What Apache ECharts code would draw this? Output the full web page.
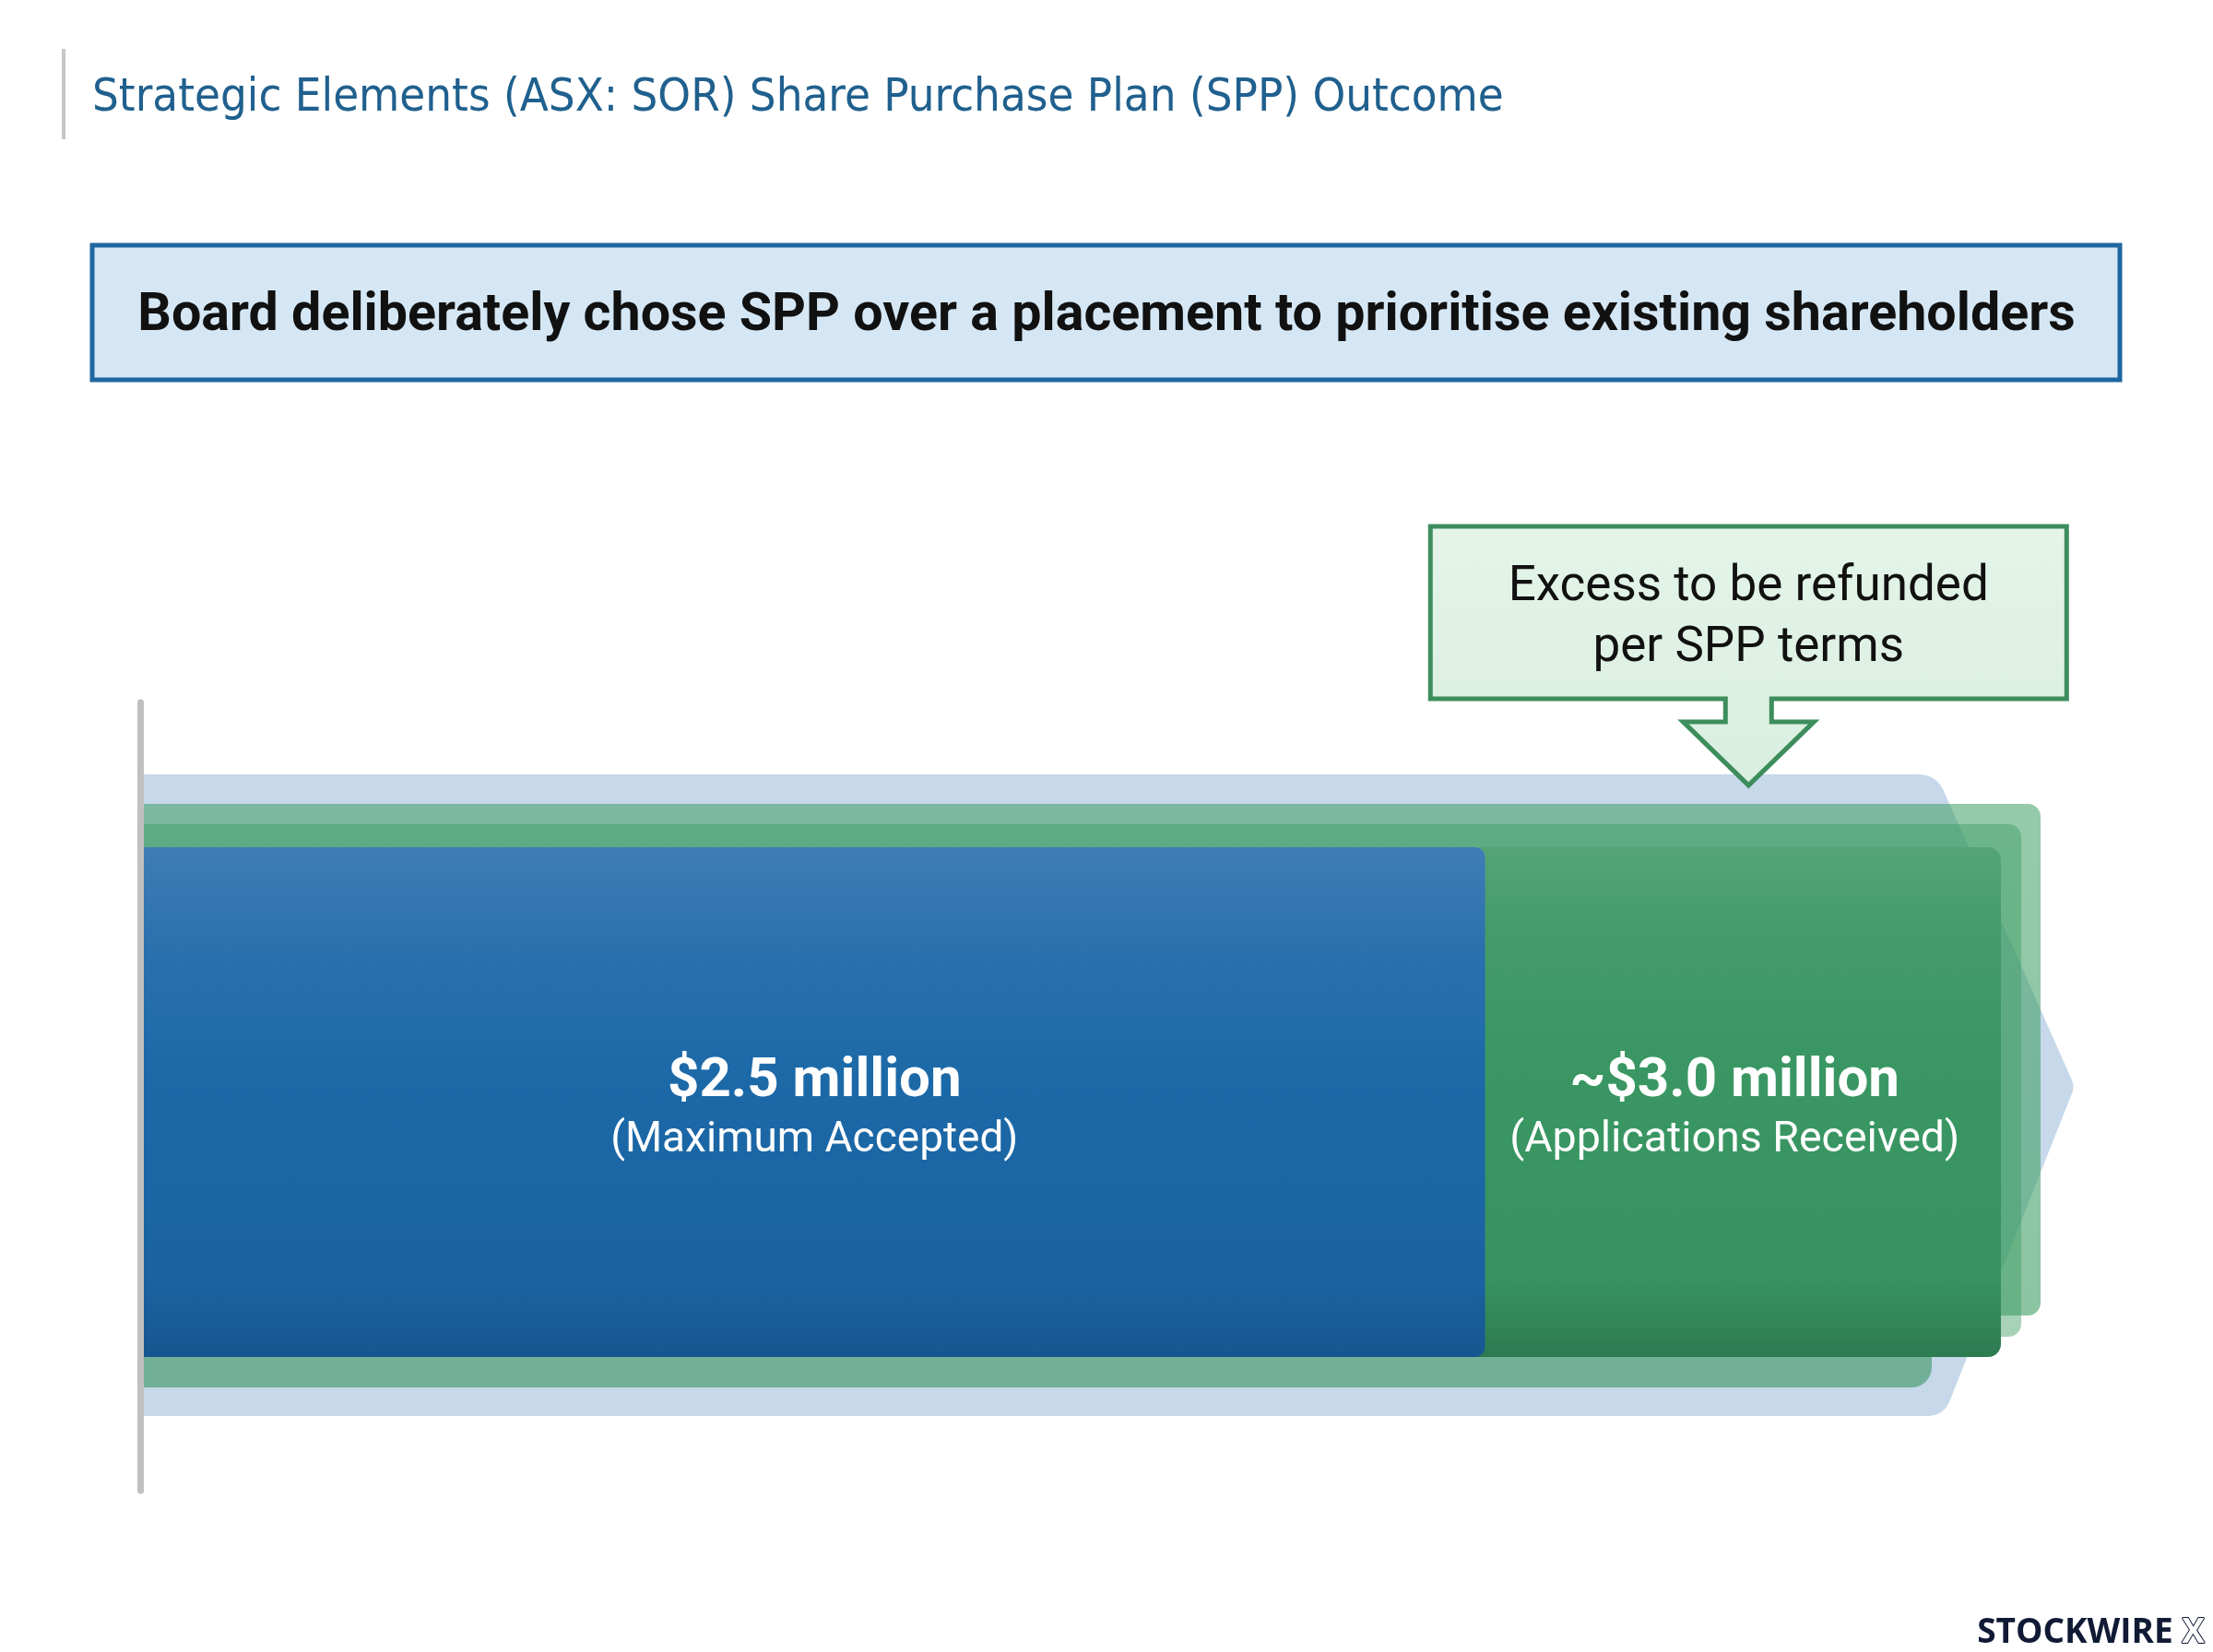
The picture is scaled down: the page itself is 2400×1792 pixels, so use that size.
<!DOCTYPE html>
<html><head><meta charset="utf-8">
<script src="https://cdn.jsdelivr.net/npm/echarts@6/dist/echarts.min.js"></script>
<style>html,body{margin:0;padding:0;background:#fff}#c{width:2400px;height:1792px}</style>
</head><body><div id="c"></div>
<script>
// ---- data ----
const categories = ['SPP'];
const acceptedValues = [2.5];       // $ million, maximum accepted
const applicationValues = [3.0];    // $ million, applications received (approx.)
const valueLabels = ['$2.5 million', '~$3.0 million'];
const subLabels = ['(Maximum Accepted)', '(Applications Received)'];
const calloutLines = ['Excess to be refunded', 'per SPP terms'];
const titleText = 'Strategic Elements (ASX: SOR) Share Purchase Plan (SPP) Outcome';
const headlineText = 'Board deliberately chose SPP over a placement to prioritise existing shareholders';
const axisMin = 1.2, axisMax = 3.0;

// ---- helpers ----
function towards(p, q, r) {
  const dx = q[0] - p[0], dy = q[1] - p[1];
  const L = Math.hypot(dx, dy) || 1;
  const t = Math.min(r, L / 2) / L;
  return [p[0] + dx * t, p[1] + dy * t];
}
function roundedPath(pts, rs) {
  const n = pts.length; let d = '';
  for (let i = 0; i < n; i++) {
    const p0 = pts[(i - 1 + n) % n], p1 = pts[i], p2 = pts[(i + 1) % n];
    const r = rs[i];
    const a = towards(p1, p0, r), b = towards(p1, p2, r);
    d += (i === 0 ? 'M' : 'L') + a[0] + ' ' + a[1] + ' Q' + p1[0] + ' ' + p1[1] + ' ' + b[0] + ' ' + b[1] + ' ';
  }
  return d + 'Z';
}
const LG = (stops) => new echarts.graphic.LinearGradient(0, 0, 0, 1, stops.map((c) => ({offset: c[0], color: c[1]})));

const chart = echarts.init(document.getElementById('c'), null, {renderer: 'canvas'});

function renderItem(params, api) {
  const cat = api.value(0), acc = api.value(1), app = api.value(2);
  const x0 = params.coordSys.x;
  const pAcc = api.coord([acc, cat]);
  const pApp = api.coord([app, cat]);
  const band = api.size([0, 1])[1];
  const h = band * 0.647;
  const cy = pAcc[1] + 6;
  const T = cy - h / 2, B = cy + h / 2;
  const R = pApp[0], Xa = pAcc[0];
  const children = [];

  // light-blue arrow backdrop
  const arrowPts = [[x0, T - 79], [R - 70, T - 79], [R + 80, cy - 17], [R - 62, B + 64], [x0, B + 64]];
  children.push({type: 'path', shape: {pathData: roundedPath(arrowPts, [0, 20, 8, 18, 0])},
    style: {fill: '#c6d8e9'}});
  // layered green sheets
  children.push({type: 'rect', shape: {x: x0, y: T + 10, width: R - 75 - x0, height: B + 33 - (T + 10), r: [0, 22, 22, 0]},
    style: {fill: 'rgba(58,150,102,0.6)'}});
  children.push({type: 'rect', shape: {x: x0, y: T - 47, width: R + 43 - x0, height: (B - 45) - (T - 47), r: [0, 14, 14, 0]},
    style: {fill: LG([[0, 'rgba(62,158,100,0.55)'], [1, 'rgba(62,158,100,0.6)']])}});
  children.push({type: 'rect', shape: {x: x0, y: T - 25, width: R + 22 - x0, height: (B - 22) - (T - 25), r: [0, 14, 14, 0]},
    style: {fill: 'rgba(60,156,98,0.45)'}});
  // applications received (green)
  children.push({type: 'rect', shape: {x: x0, y: T, width: R - x0, height: h, r: [0, 14, 14, 0]},
    style: {fill: LG([[0, '#55a577'], [0.15, '#459c6b'], [0.4, '#3a9763'], [0.85, '#379360'], [1, '#2d7a50']])}});
  // maximum accepted (blue)
  children.push({type: 'rect', shape: {x: x0, y: T, width: Xa - x0, height: h, r: [0, 11, 11, 0]},
    style: {fill: LG([[0, '#3f7db6'], [0.2, '#2a71ae'], [0.45, '#1c69a8'], [0.85, '#1a63a1'], [1, '#165690']])}});

  // labels
  const cBlue = (x0 + Xa) / 2, cGreen = (Xa + R) / 2;
  children.push({type: 'text', style: {x: cBlue, y: cy - 22, text: valueLabels[0], font: 'bold 60px Roboto', fill: '#fff', align: 'center', verticalAlign: 'middle'}});
  children.push({type: 'text', style: {x: cBlue, y: cy + 42, text: subLabels[0], font: 'normal 46px Roboto', fill: '#fff', align: 'center', verticalAlign: 'middle'}});
  children.push({type: 'text', style: {x: cGreen - 9, y: cy - 22, text: valueLabels[1], font: 'bold 60px Roboto', fill: '#fff', align: 'center', verticalAlign: 'middle'}});
  children.push({type: 'text', style: {x: cGreen - 9, y: cy + 42, text: subLabels[1], font: 'normal 46.5px Roboto', fill: '#fff', align: 'center', verticalAlign: 'middle'}});

  // callout pointing at the excess segment
  const tip = T - 67, bot = T - 161, top = T - 348, hw = 345, sw = 25, aw = 71;
  const cx = cGreen + 6;
  children.push({type: 'polygon', shape: {points: [
      [cx - hw, top], [cx + hw, top], [cx + hw, bot], [cx + sw, bot], [cx + sw, bot + 25], [cx + aw, bot + 25],
      [cx, tip], [cx - aw, bot + 25], [cx - sw, bot + 25], [cx - sw, bot], [cx - hw, bot]]},
    style: {fill: LG([[0, '#e4f4e9'], [1, '#d9efe0']]), stroke: '#3d8d5d', lineWidth: 5, lineJoin: 'miter'}});
  children.push({type: 'text', style: {x: cx, y: top + 67, text: calloutLines[0], font: 'normal 53px Roboto', fill: '#111', align: 'center', verticalAlign: 'middle'}});
  children.push({type: 'text', style: {x: cx, y: top + 133, text: calloutLines[1], font: 'normal 53px Roboto', fill: '#111', align: 'center', verticalAlign: 'middle'}});

  return {type: 'group', children: children};
}

chart.setOption({
  animation: false,
  backgroundColor: '#ffffff',
  grid: {left: 156, right: 230, top: 762, height: 855, containLabel: false},
  xAxis: {type: 'value', min: axisMin, max: axisMax, show: false},
  yAxis: {type: 'category', data: categories, offset: 4,
    axisLine: {show: true, onZero: false, lineStyle: {color: '#c0c0c0', width: 7}},
    axisTick: {show: false}, axisLabel: {show: false}, splitLine: {show: false}},
  graphic: [
    {type: 'rect', shape: {x: 67, y: 53, width: 4, height: 98}, style: {fill: '#c6c6c6'}},
    {type: 'text', style: {x: 100, y: 107, text: titleText, font: 'normal 50.5px "DejaVu Sans Condensed", sans-serif', fill: '#20608e', verticalAlign: 'middle'}},
    {type: 'rect', shape: {x: 100, y: 266, width: 2199, height: 146}, style: {fill: '#d5e7f5', stroke: '#1f67a0', lineWidth: 5}},
    {type: 'text', style: {x: 1200, y: 344, text: headlineText, font: 'bold 57.4px Roboto', fill: '#111', align: 'center', verticalAlign: 'middle'}},
    {type: 'text', style: {x: 2391, y: 1771, text: '{a|STOCKWIRE }{b|X}', align: 'right', verticalAlign: 'middle',
      rich: {a: {font: 'bold 37px "Open Sans"', fill: '#101a35'}, b: {font: 'bold 37px "Open Sans"', fill: '#ffffff', stroke: '#101a35', lineWidth: 2}}}}
  ],
  series: [{
    type: 'custom', name: 'SPP', clip: false, silent: true,
    renderItem: renderItem,
    encode: {x: [1, 2], y: 0},
    data: categories.map((c, i) => [i, acceptedValues[i], applicationValues[i]])
  }]
});
</script></body></html>
